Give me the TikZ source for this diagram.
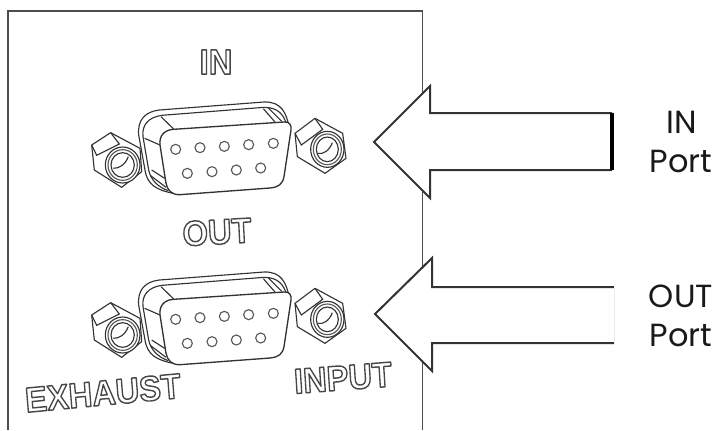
\documentclass[tikz,border=0pt]{standalone}
\usepackage{fontspec}
\setmainfont{Poppins}
\newfontfamily\stamp{Liberation Sans Bold}
\tikzset{
  x=0.75pt,y=-0.75pt,
  panel/.style={line width=1.1pt,draw=black!70},
  bigarrow/.style={line width=1.5pt,draw=black!80,fill=white,line join=miter},
  ink/.style={line width=0.85pt,draw=black!80},
  ring/.style={line width=0.85pt,draw=black!65},
  portlabel/.style={anchor=base,font=\fontsize{24pt}{26pt}\selectfont,text=black!90,inner sep=0pt},
  stamped/.style={inner sep=0pt,yscale=1.08,font=\stamp\fontsize{24.5pt}{27pt}\selectfont}
}
\newcommand{\hollow}[1]{\special{pdf:code q 2 Tr 1 w 0.28 G 1 g 1 j}#1\special{pdf:code Q}}
\newcommand{\dsub}[2]{%
\begin{scope}[shift={(#1,#2)},x=0.25pt,y=-0.25pt]
  % left nut
  \draw[ink,line join=round] (95,345)--(152,308)--(240,355)--(245,425)--(185,472)--(103,420)--cycle;
  \draw[ink] (95,345)--(110,376)--(178,342)--(152,308);
  \draw[ink,fill=white] (188,405) circle[x radius=52,y radius=54];
  \draw[ring] (188,405) circle[x radius=44,y radius=46];
  \draw[ink] (188,405) circle[x radius=35,y radius=37];
  \draw[ink] (160,415) .. controls (178,415) and (195,405) .. (205,380);
  % right nut
  \draw[ink,line join=round] (705,310)--(765,265)--(848,310)--(858,385)--(795,430)--(712,380)--cycle;
  \draw[ink] (705,310)--(724,345)--(788,298)--(765,265);
  \draw[ink,fill=white] (802,358) circle[x radius=50,y radius=54];
  \draw[ring] (802,358) circle[x radius=42,y radius=46];
  \draw[ink] (802,358) circle[x radius=33,y radius=37];
  \draw[ink] (772,370) .. controls (790,374) and (808,362) .. (817,338);
  % shell
  \draw[ink,fill=white] (298,240) -- (612,216) .. controls (665,214) and (680,250) .. (688,295)
     -- (670,440) -- (340,490) .. controls (290,480) and (262,465) .. (255,420) -- (236,315) .. controls (232,270) and (255,245) .. (298,240) -- cycle;
  \draw[ink] (305,256) -- (612,232) .. controls (655,232) and (672,255) .. (680,285);
  \draw[ink] (305,256) .. controls (265,262) and (245,285) .. (249,320) -- (266,420) .. controls (272,450) and (295,472) .. (325,482);
  % bevels
  \draw[ink] (303,260) -- (342,298);
  \draw[ink] (610,236) -- (645,276);
  \draw[ink] (625,234) -- (665,274);
  \draw[ink] (254,325) -- (300,345);
  \draw[ink] (275,420) -- (314,445);
  \draw[ink] (272,437) -- (318,472);
  % face
  \draw[ink,fill=white,line width=1pt] (340,298) -- (672,276) .. controls (688,274) and (695,285) .. (693,300)
     -- (672,440) .. controls (668,462) and (655,472) .. (630,474) -- (360,494) .. controls (335,495) and (322,480) .. (318,460)
     -- (300,345) .. controls (297,318) and (312,300) .. (340,298) -- cycle;
  % pin holes
  \foreach \hx/\hy in {347/358,420/353,493/349,566/344,640/340,382/430,456/425,529/420,602/414}
    \draw[ring,fill=white] (\hx,\hy) circle[radius=15];
\end{scope}}
\begin{document}
\begin{tikzpicture}
\useasboundingbox (0,0) rectangle (720,430);
\fill[white] (0,0) rectangle (720,430);
\draw[panel] (8,430) -- (8,11) -- (422.5,11) -- (422.5,430);
\dsub{60}{30}
\dsub{60}{200}
\node[stamped] (lblin) at (216,62) {\hollow{IN}};
\node[stamped,rotate=3] (lblout) at (217,232) {\hollow{OUT}};
\node[stamped,rotate=5] (lblexh) at (103,393) {\hollow{EXHAUST}};
\node[stamped,rotate=4] (lblinput) at (343,378) {\hollow{INPUT}};
\draw[bigarrow] (612,113) -- (430,113) -- (430,86) -- (374,142) -- (430,198) -- (430,170) -- (612,170);
\draw[line width=2.6pt,black] (612,113) -- (612,170);
\draw[bigarrow] (614,287) -- (432,287) -- (432,258) -- (375,314) -- (432,371) -- (432,343) -- (614,343);
\draw[line width=0.5pt,black!8] (614,287) -- (614,343);
\node[portlabel] (inA) at (682,133) {IN};
\node[portlabel] (inB) at (681,172) {Port};
\node[portlabel] (outA) at (681,307) {OUT};
\node[portlabel] (outB) at (681,346) {Port};
\end{tikzpicture}
\end{document}
